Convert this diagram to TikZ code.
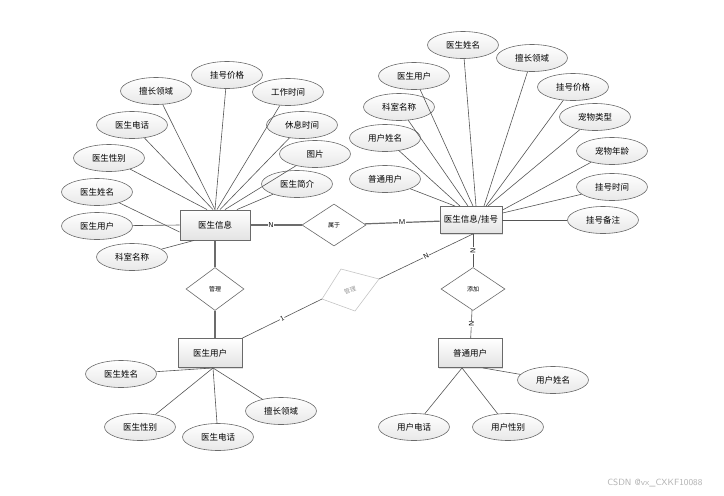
\documentclass[tikz,border=0pt]{standalone}
\usepackage{fontspec}
\newfontfamily\cjk{Noto Sans CJK SC}
\usetikzlibrary{shapes.geometric,shadows}
\definecolor{edgec}{HTML}{555555}
\definecolor{bordc}{HTML}{6A6A6A}
\tikzset{
  ent/.style={draw=bordc, line width=0.9pt, top color=white, bottom color=gray!22,
    minimum width=64pt, minimum height=29pt, inner sep=1pt, font=\cjk\fontsize{8.5}{10}\selectfont,
    drop shadow={shadow xshift=1pt, shadow yshift=-1pt, opacity=.25}},
  attr/.style={ellipse, draw=bordc, line width=0.6pt, top color=white, bottom color=gray!18,
    minimum width=71pt, minimum height=27pt, inner sep=0pt, font=\cjk\fontsize{8.5}{10}\selectfont},
  rel/.style={diamond, draw=bordc, line width=0.6pt, fill=white, minimum width=62pt,
    minimum height=43pt, inner sep=0pt, font=\cjk\fontsize{6}{7}\selectfont},
  ln/.style={draw=edgec, line width=0.6pt},
  thk/.style={draw=gray!85!black, line width=1.2pt},
  card/.style={font=\sffamily\fontsize{7}{8}\selectfont, fill=white, inner sep=0.5pt},
}
\begin{document}
\begin{tikzpicture}[x=1pt,y=-1pt]
\useasboundingbox (0,0) rectangle (724,496);
% entities
\node[ent, minimum width=70pt, minimum height=30pt] (ds) at (215,225) {医生信息};
\node[ent, minimum width=62pt, minimum height=27pt] (gh) at (471,220) {医生信息/挂号};
\node[ent] (yu) at (210,353) {医生用户};
\node[ent] (pu) at (470,353) {普通用户};
% relations
\node[rel, minimum width=64pt, minimum height=42pt] (sy) at (334,225) {属于};
\node[rel, minimum width=58pt] (gl) at (215,289) {管理};
\node[rel, minimum width=64pt] (tj) at (473,289) {添加};
% grey rotated diamond
\coordinate (gL) at (322,299);
\coordinate (gT) at (341,269);
\coordinate (gR) at (379,279);
\coordinate (gB) at (355,311);
\filldraw[draw=gray!45, fill=white, line width=0.6pt] (gL) -- (gT) -- (gR) -- (gB) -- cycle;
\node[font=\cjk\fontsize{6}{7}\selectfont, text=gray!80, rotate=20, inner sep=0pt] (gm) at (350,290) {管理};

% attributes of 医生信息
\node[attr] (a1) at (156,91) {擅长领域};
\node[attr] (a2) at (227,75) {挂号价格};
\node[attr] (a3) at (288,92) {工作时间};
\node[attr] (a4) at (132,125) {医生电话};
\node[attr] (a5) at (302,125) {休息时间};
\node[attr] (a6) at (109,158) {医生性别};
\node[attr] (a7) at (315,154) {图片};
\node[attr] (a8) at (97,192) {医生姓名};
\node[attr] (a9) at (297,184) {医生简介};
\node[attr] (a10) at (97,226) {医生用户};
\node[attr] (a11) at (132,257) {科室名称};

\draw[ln] (a1) -- (ds.north);
\draw[ln] (a2) -- (ds.north);
\draw[ln] (a3) -- ([xshift=2pt]ds.north);
\draw[ln] (a4) -- ([xshift=-2pt]ds.north);
\draw[ln] (a5) -- ([xshift=5pt]ds.north);
\draw[ln] (a6) -- ([xshift=-8pt]ds.north);
\draw[ln] (a7) -- ([xshift=10pt]ds.north);
\draw[ln] (a8) -- ([yshift=-7pt]ds.west);
\draw[ln] (a9) -- ([xshift=22pt]ds.north);
\draw[ln] (a10) -- (ds.west);
\draw[ln] (a11) -- ([xshift=-21pt]ds.south);

% attributes of 医生信息/挂号
\node[attr] (b1) at (463,45) {医生姓名};
\node[attr] (b2) at (532,58) {擅长领域};
\node[attr] (b3) at (414,76) {医生用户};
\node[attr] (b4) at (573,87) {挂号价格};
\node[attr] (b5) at (399,107) {科室名称};
\node[attr] (b6) at (595,117) {宠物类型};
\node[attr] (b7) at (385,138) {用户姓名};
\node[attr] (b8) at (612,151) {宠物年龄};
\node[attr] (b9) at (385,179) {普通用户};
\node[attr] (b10) at (612,187) {挂号时间};
\node[attr] (b11) at (603,220) {挂号备注};

\draw[ln] (b1) -- ([xshift=5pt]gh.north);
\draw[ln] (b2) -- ([xshift=13pt]gh.north);
\draw[ln] (b3) -- ([xshift=2pt]gh.north);
\draw[ln] (b4) -- ([xshift=15pt]gh.north);
\draw[ln] (b5) -- ([xshift=-3pt]gh.north);
\draw[ln] (b6) -- ([xshift=17pt]gh.north);
\draw[ln] (b7) -- ([xshift=-11pt]gh.north);
\draw[ln] (b8) -- ([yshift=-4pt]gh.north east);
\draw[ln] (b9) -- ([xshift=-16pt]gh.north);
\draw[ln] (b10) -- ([yshift=-7pt]gh.north east);
\draw[ln] (b11) -- (gh.east);

% attributes of 医生用户
\node[attr] (c1) at (121,374) {医生姓名};
\node[attr] (c2) at (140,427) {医生性别};
\node[attr] (c3) at (218,437) {医生电话};
\node[attr] (c4) at (281,411) {擅长领域};
\draw[ln] (c1) -- ([xshift=3pt]yu.south);
\draw[ln] (c2) -- ([xshift=3pt]yu.south);
\draw[ln] (c3) -- ([xshift=3pt]yu.south);
\draw[ln] (c4) -- ([xshift=3pt]yu.south);

% attributes of 普通用户
\node[attr] (d1) at (553,380) {用户姓名};
\node[attr] (d2) at (414,427) {用户电话};
\node[attr] (d3) at (508,427) {用户性别};
\draw[ln] (d1) -- ([xshift=13pt]pu.south);
\draw[ln] (d2) -- ([xshift=-8pt]pu.south);
\draw[ln] (d3) -- ([xshift=-8pt]pu.south);

% relationship connectors
\draw[thk] (ds) -- node[card, pos=0.4] {N} (sy);
\draw[thk] (sy) -- node[card, pos=0.5] {M} (gh);
\draw[thk] (ds) -- (gl);
\draw[thk] (gl.south) -- (gl.south |- yu.north);
\draw[ln] (yu.north east) -- node[card, pos=0.5, rotate=27] {1} (gL);
\draw[ln] (gR) -- node[card, pos=0.5, rotate=27] {N} ([xshift=2pt]gh.south);
\draw[ln] ([xshift=2pt]gh.south) -- node[card, pos=0.5, rotate=90] {N} (tj);
\draw[ln] (tj) -- node[card, pos=0.5, rotate=90] {N} (pu);

% watermark
\node[font=\fontsize{9}{10}\selectfont\sffamily, text=gray!60, anchor=east] (wm) at (706,483) {CSDN @vx\_CXKF10088};
\end{tikzpicture}
\end{document}
